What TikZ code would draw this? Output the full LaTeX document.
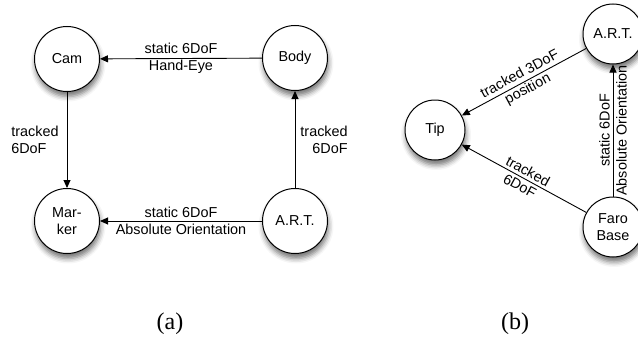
\documentclass[tikz,border=0pt]{standalone}
\usepackage{fontspec}
\setmainfont{Liberation Sans}
\newfontfamily\capfont{Liberation Serif}
\usetikzlibrary{arrows.meta,shadows.blur}
\tikzset{
  stnode/.style={circle, draw, line width=1pt, fill=white, minimum size=65pt, inner sep=0pt,
    font=\fontsize{14.4}{17}\selectfont, align=center,
    blur shadow={shadow xshift=1pt, shadow yshift=-5pt, shadow blur radius=5pt, shadow opacity=55}},
  stnodeb/.style={stnode, minimum size=60pt},
  conn/.style={-{Triangle[length=8pt,width=7pt]}, line width=0.9pt},
  lab/.style={font=\fontsize{14.4}{17}\selectfont, align=center, inner sep=0pt},
  capt/.style={font=\capfont\fontsize{24}{26}\selectfont, inner sep=0pt}
}
\begin{document}
\begin{tikzpicture}[x=1pt,y=-1pt]
\useasboundingbox (0,0) rectangle (638,340);
% (a)
\node[stnode] (cam) at (67,59) {Cam};
\node[stnode] (body) at (295,58) {Body};
\node[stnode] (marker) at (67,221) {Mar-\\ker};
\node[stnode] (arta) at (295,221) {A.R.T.};
\draw[conn] (body) -- node[lab]{static 6DoF\\Hand-Eye} (cam);
\draw[conn] (cam) -- node[lab, anchor=east, xshift=-8pt, align=left]{tracked\\6DoF} (marker);
\draw[conn] (arta) -- node[lab, anchor=west, xshift=5pt, align=right]{tracked\\6DoF} (body);
\draw[conn] (arta) -- node[lab]{static 6DoF\\Absolute Orientation} (marker);
% (b)
\node[stnodeb] (tip) at (435,130) {Tip};
\node[stnodeb] (artb) at (613,34) {A.R.T.};
\node[stnodeb] (faro) at (613,227) {Faro\\Base};
\draw[conn] (artb) -- node[lab, sloped]{tracked 3DoF\\position} (tip);
\draw[conn] (faro) -- node[lab, sloped]{tracked\\6DoF} (tip);
\draw[conn] (faro) -- node[lab, sloped]{static 6DoF\\Absolute Orientation} (artb);
% captions
\node[capt] (capa) at (170,324) {(a)};
\node[capt] (capb) at (515,324) {(b)};
\end{tikzpicture}
\end{document}
